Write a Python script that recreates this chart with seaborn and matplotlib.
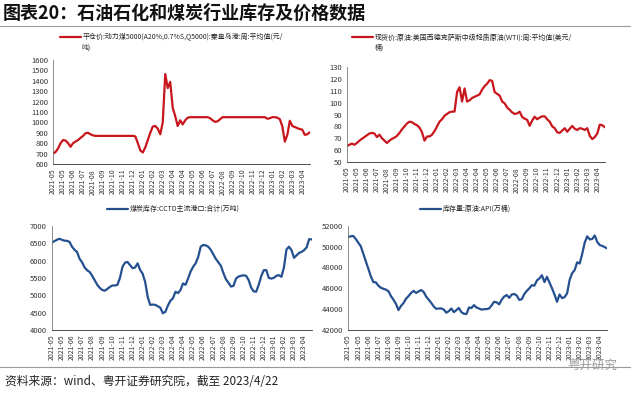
import numpy as np
import matplotlib
matplotlib.use("Agg")
import matplotlib.pyplot as plt
import seaborn as sns

sns.set_style("white")
plt.rcParams['font.family'] = ['Noto Sans CJK SC', 'DejaVu Sans']
plt.rcParams['axes.unicode_minus'] = False

# weekly data, 2021-05 .. 2023-04
coal_price = [700, 715, 750, 800, 830, 825, 800, 765, 800, 815, 830, 850, 870, 895, 900, 885,
              875, 870, 870, 870, 870, 870, 870, 870, 870, 870, 870, 870, 870, 870, 870, 870,
              870, 865, 800, 730, 710, 760, 830, 900, 960, 965, 940, 885, 1000, 1465, 1330, 1390,
              1140, 1060, 965, 1020, 980, 1020, 1045, 1050, 1050, 1050, 1050, 1050, 1050, 1050, 1050, 1040,
              1020, 1005, 1010, 1030, 1050, 1050, 1050, 1050, 1050, 1050, 1050, 1050, 1050, 1050, 1050, 1050,
              1050, 1050, 1050, 1050, 1050, 1050, 1035, 1040, 1050, 1050, 1045, 1030, 960, 815, 880, 1015,
              965, 955, 945, 935, 930, 880, 885, 905]

wti_price = [63.5, 64.5, 65.5, 64.5, 66, 68, 69.5, 71, 72.5, 74, 74.5, 74, 71, 73, 70, 68,
             66, 68, 69.5, 70.5, 72, 74.5, 77.5, 80, 82.5, 84, 83.5, 82, 81, 79, 75, 68,
             71.5, 71.5, 73, 76, 80, 84, 86, 89, 90.5, 92, 92.5, 92.5, 109, 113, 101, 112,
             101, 102, 104, 105, 106, 107, 111, 114, 116, 119, 118.5, 109, 107.5, 106, 101, 99.5,
             96, 94, 91.8, 90.5, 91, 92.4, 88, 86.5, 85.5, 80.5, 85, 88.2, 86, 87.5, 88.5, 88.5,
             86, 84, 80, 78.5, 75, 74.5, 76.5, 78.5, 75.5, 78, 80.4, 78, 77, 78.5, 78, 77,
             78.5, 72, 69.3, 71, 74, 81.5, 81, 79.3]

coal_stock = [6520, 6560, 6600, 6630, 6600, 6575, 6570, 6540, 6400, 6310, 6250, 6050, 5950, 5800, 5720, 5670,
              5560, 5430, 5300, 5210, 5150, 5130, 5180, 5240, 5280, 5280, 5300, 5500, 5820, 5940, 5960, 5870,
              5780, 5800, 5920, 5730, 5620, 5380, 4950, 4720, 4730, 4720, 4680, 4640, 4480, 4520, 4700, 4840,
              4910, 5100, 5060, 5150, 5340, 5300, 5480, 5680, 5820, 5920, 6100, 6400, 6450, 6440, 6400, 6310,
              6180, 6050, 5950, 5850, 5640, 5460, 5360, 5250, 5270, 5480, 5540, 5560, 5575, 5560, 5440, 5220,
              5110, 5100, 5300, 5550, 5720, 5725, 5500, 5480, 5500, 5560, 5580, 5530, 5800, 6320, 6400, 6300,
              6080, 6150, 6220, 6250, 6300, 6380, 6620, 6610]

api_stock = [50950, 51000, 51040, 50750, 50400, 50050, 49350, 48600, 47900, 47150, 46600, 46570, 46250, 46050, 45950, 45870,
             45720, 45250, 44900, 44500, 43900, 44300, 44580, 45000, 45250, 45550, 45750, 45550, 45700, 45830, 45650, 45200,
             44900, 44600, 44250, 44020, 44050, 44060, 43950, 43650, 43800, 44050, 43700, 43900, 44100, 43700, 43550, 43520,
             44150, 44100, 44380, 44150, 44050, 43950, 43980, 44000, 44050, 44350, 44700, 44650, 44450, 44900, 45200, 45350,
             45080, 45400, 45450, 45300, 44880, 44950, 45450, 45750, 46000, 46300, 46250, 46750, 46950, 47250, 46600, 47100,
             46550, 46000, 45400, 44700, 45400, 45050, 45150, 45500, 46800, 47450, 47750, 48500, 48380, 49300, 50400, 51000,
             50700, 50750, 51080, 50450, 50150, 50080, 49950, 49830]

tick_labels = ['2021-05', '2021-05', '2021-06', '2021-07', '2021-08', '2021-09', '2021-10', '2021-11',
               '2021-12', '2022-01', '2022-02', '2022-03', '2022-04', '2022-04', '2022-05', '2022-06',
               '2022-07', '2022-08', '2022-09', '2022-10', '2022-11', '2022-12', '2023-01', '2023-02',
               '2023-03', '2023-04']

RED = '#C8161D'
BLUE = '#24508F'

panels = [
    dict(y=coal_price, color=RED, pos=[0.083, 0.585, 0.401, 0.263], yt=np.arange(600, 1601, 100),
         label='平仓价:动力煤5000(A20%,0.7%S,Q5000):秦皇岛港:周:平均值(元/', extra='吨)',
         leg=(0.094, 0.906), extra_pos=(0.128, 0.880)),
    dict(y=wti_price, color=RED, pos=[0.542, 0.590, 0.403, 0.240], yt=np.arange(50, 131, 10),
         label='现货价:原油:美国西德克萨斯中级轻质原油(WTI):周:平均值(美元/', extra='桶)',
         leg=(0.550, 0.906), extra_pos=(0.585, 0.880)),
    dict(y=coal_stock, color=BLUE, pos=[0.081, 0.165, 0.406, 0.263], yt=np.arange(4000, 7001, 500),
         label='煤炭库存:CCTD主流港口:合计(万吨)', extra=None, leg=(0.167, 0.471), extra_pos=None),
    dict(y=api_stock, color=BLUE, pos=[0.544, 0.165, 0.405, 0.263], yt=np.arange(42000, 52001, 2000),
         label='库存量:原油:API(万桶)', extra=None, leg=(0.656, 0.471), extra_pos=None),
]

fig = plt.figure(figsize=(6.4, 3.95), dpi=100)

for p in panels:
    ax = fig.add_axes(p['pos'])
    idx = np.arange(len(p['y']))
    sns.lineplot(x=idx, y=p['y'], ax=ax, color=p['color'], linewidth=1.6, label=p['label'])
    ax.set_xlim(0, len(p['y']) - 1)
    ax.set_ylim(p['yt'][0], p['yt'][-1])
    ax.set_yticks(p['yt'])
    ax.set_yticklabels([str(v) for v in p['yt']], fontsize=5.5, color='#333333')
    ax.set_xticks(idx[::4])
    ax.set_xticklabels(tick_labels, rotation=90, fontsize=5, color='#333333')
    ax.tick_params(axis='both', length=2, width=0.5, pad=1.5, color='#555555')
    for s in ['top', 'right']:
        ax.spines[s].set_visible(False)
    ax.spines['left'].set_color('#777777')
    ax.spines['bottom'].set_color('#333333')
    ax.spines['left'].set_linewidth(0.6)
    ax.spines['bottom'].set_linewidth(0.6)
    ax.set_xlabel('')
    ax.set_ylabel('')
    ax.legend(loc='center left', bbox_to_anchor=p['leg'], bbox_transform=fig.transFigure,
              frameon=False, fontsize=5, handlelength=3.0, handletextpad=0.3,
              borderpad=0, borderaxespad=0)
    if p['extra']:
        fig.text(p['extra_pos'][0], p['extra_pos'][1], p['extra'], fontsize=5, va='center', color='#333333')

# title and footer
fig.text(0.005, 0.966, '图表20：石油石化和煤炭行业库存及价格数据', fontsize=13, fontweight='bold',
         va='center', ha='left', color='#111111')
fig.add_artist(plt.Line2D([0.0, 0.985], [0.934, 0.934], color='#999999', linewidth=0.8))
fig.add_artist(plt.Line2D([0.0, 0.985], [0.071, 0.071], color='#999999', linewidth=0.8))
fig.text(0.008, 0.035, '资料来源：wind、粤开证券研究院，截至 2023/4/22', fontsize=8.5, style='italic',
         va='center', ha='left', color='#222222')
fig.text(0.965, 0.072, '粤开研究', fontsize=9, va='center', ha='right', color='#9a9a9a')

fig.savefig('out.png', dpi=100)
